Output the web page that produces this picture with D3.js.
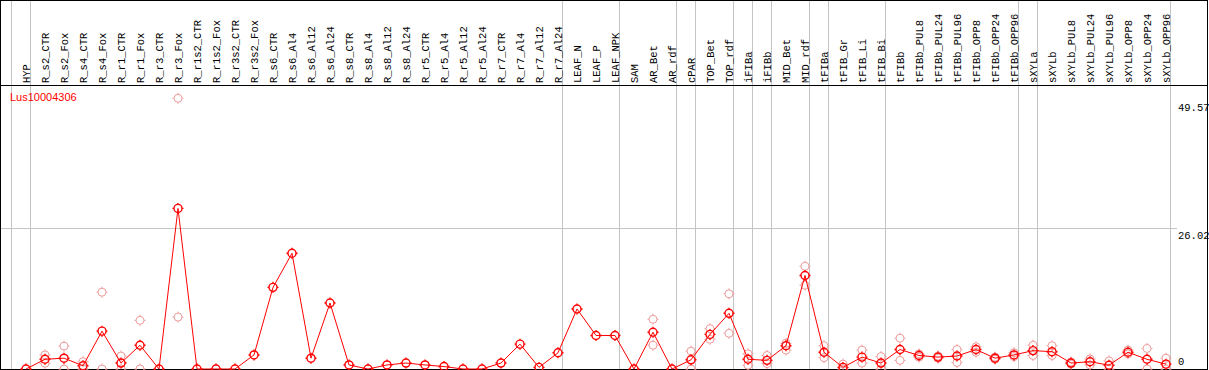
<!DOCTYPE html>
<html>
<head>
<meta charset="utf-8">
<script src="https://cdn.jsdelivr.net/npm/d3@7"></script>
<style>
  body { margin: 0; background: #fff; }
  svg { display: block; }
</style>
</head>
<body>
<svg id="chart" width="1209" height="370"></svg>
<script>
// sample names, left to right
const samples = [
  'HYP',
  'R_s2_CTR', 'R_s2_Fox', 'R_s4_CTR', 'R_s4_Fox', 'R_r1_CTR', 'R_r1_Fox', 'R_r3_CTR', 'R_r3_Fox',
  'R_r1s2_CTR', 'R_r1s2_Fox', 'R_r3s2_CTR', 'R_r3s2_Fox',
  'R_s6_CTR', 'R_s6_Al4', 'R_s6_Al12', 'R_s6_Al24', 'R_s8_CTR', 'R_s8_Al4', 'R_s8_Al12', 'R_s8_Al24',
  'R_r5_CTR', 'R_r5_Al4', 'R_r5_Al12', 'R_r5_Al24', 'R_r7_CTR', 'R_r7_Al4', 'R_r7_Al12', 'R_r7_Al24',
  'LEAF_N', 'LEAF_P', 'LEAF_NPK', 'SAM', 'AR_Bet', 'AR_rdf', 'cPAR', 'TOP_Bet', 'TOP_rdf',
  'iFIBa', 'iFIBb', 'MID_Bet', 'MID_rdf', 'tFIBa', 'tFIB_Gr', 'tFIB_Li', 'tFIB_Bi',
  'tFIBb', 'tFIBb_PUL8', 'tFIBb_PUL24', 'tFIBb_PUL96', 'tFIBb_OPP8', 'tFIBb_OPP24', 'tFIBb_OPP96',
  'sXYLa', 'sXYLb', 'sXYLb_PUL8', 'sXYLb_PUL24', 'sXYLb_PUL96', 'sXYLb_OPP8', 'sXYLb_OPP24', 'sXYLb_OPP96'
];

// mean expression per sample (dark markers + line)
const meanValues = [
  0,
  1.8, 2.0, 0.6, 7.0, 1.1, 4.4, 0, 29.7,
  0, 0, 0, 2.6,
  15.1, 21.4, 2.0, 12.2, 0.75, 0, 0.75, 1.1,
  0.75, 0.45, 0, 0, 1.1, 4.6, 0.3, 3.0,
  11.1, 6.2, 6.2, 0, 6.8, 0, 1.7, 6.4, 10.3,
  1.8, 1.6, 4.3, 17.3, 3.1, 0.3, 2.2, 1.1,
  3.6, 2.5, 2.2, 2.4, 3.6, 2.0, 2.6,
  3.4, 3.2, 1.1, 1.35, 0.7, 3.1, 1.8, 0.9
];

// replicate values (light markers), null where none is visible
const repHigh = [
  null,
  2.6, 4.25, 1.35, 14.2, 2.4, 9.0, null, 50.06,
  null, null, null, null,
  null, null, null, null, null, null, null, null,
  null, null, null, null, null, null, null, null,
  null, null, null, null, 9.2, null, 3.3, 7.45, 13.9,
  2.8, 2.5, 4.75, 19.0, 4.3, 0.9, 3.5, 2.3,
  5.7, 2.8, 2.4, 3.6, 4.1, 2.2, 3.0,
  4.4, 4.3, 1.3, 1.85, 1.5, 3.5, 3.8, 2.0
];
const repLow = [
  null,
  1.05, 0, 0, 0, 0, 0, null, 9.6,
  null, null, null, null,
  null, null, null, null, null, null, null, null,
  null, null, null, null, null, null, null, null,
  null, null, null, null, 4.4, null, 0, 5.5, 6.6,
  0.7, 1.0, 3.5, 15.5, 2.1, 0, 1.1, 0,
  1.6, 2.2, 2.0, 1.2, 3.1, 1.8, 2.3,
  2.5, 2.5, 0.9, 0.75, 0, 2.8, 0, 0
];

// last sample of each tissue group (separator lines)
const groupEnds = ['HYP', 'R_r7_Al24', 'LEAF_NPK', 'AR_rdf', 'cPAR', 'TOP_rdf', 'iFIBa', 'iFIBb',
  'MID_rdf', 'tFIBa', 'tFIB_Bi', 'tFIBb_OPP96', 'sXYLa', 'sXYLb_OPP96'];

const yTicks = [0, 26.02, 49.57];
const geneId = 'Lus10004306';

const width = 1209;
const plotTop = 85, plotBottom = 369, labelBase = 83;
const mono = '"Liberation Mono", "DejaVu Sans Mono", monospace';

const svg = d3.select('#chart');

const x = d3.scalePoint().domain(samples).range([26, 1166]);
const y = d3.scaleLinear().domain([0, 26.02]).range([plotBottom, 228.3]);

const crisp = v => Math.floor(v) + 0.5;

// horizontal grid at the middle tick
svg.append('line')
    .attr('x1', 1).attr('x2', 1177)
    .attr('y1', crisp(y(26.02))).attr('y2', crisp(y(26.02)))
    .attr('stroke', '#c4c4c4');

// group separators, full height
const sepX = [x(samples[0]) - x.step()].concat(groupEnds.map(d => x(d)));
svg.selectAll('.sep')
    .data(sepX)
  .enter().append('line')
    .attr('class', 'sep')
    .attr('x1', d => crisp(d + 4.5)).attr('x2', d => crisp(d + 4.5))
    .attr('y1', 0).attr('y2', plotBottom)
    .attr('stroke', '#c4c4c4');

// frame + header divider
svg.append('rect')
    .attr('x', 0.5).attr('y', 0.5)
    .attr('width', width - 2).attr('height', plotBottom)
    .attr('fill', 'none').attr('stroke', '#000');
svg.append('line')
    .attr('x1', 0).attr('x2', width - 1)
    .attr('y1', plotTop + 0.5).attr('y2', plotTop + 0.5)
    .attr('stroke', '#000');

// sample labels
svg.selectAll('.slabel')
    .data(samples)
  .enter().append('text')
    .attr('class', 'slabel')
    .attr('transform', d => `translate(${x(d) + 3.5},${labelBase}) rotate(-90)`)
    .style('font-family', mono)
    .style('font-size', '10.5px')
    .attr('fill', '#000')
    .text(d => d);

// right value axis
const axis = svg.append('g')
    .attr('transform', 'translate(1178,0)')
    .call(d3.axisRight(y).tickValues(yTicks).tickSize(0).tickPadding(0).tickFormat(d => d));
axis.select('.domain').remove();
axis.selectAll('text')
    .style('font-family', mono)
    .style('font-size', '10.5px')
    .attr('fill', '#000')
    .attr('dy', d => d === 0 ? '-0.4em' : '0.95em');

// gene name
svg.append('text')
    .attr('x', 10).attr('y', 101)
    .style('font-family', '"Liberation Sans", Arial, sans-serif')
    .style('font-size', '11px')
    .attr('fill', '#ff0000')
    .text(geneId);

// marker: ring with four small stubs
function marker(r, s) {
  return `M${-r},0a${r},${r} 0 1,0 ${2 * r},0a${r},${r} 0 1,0 ${-2 * r},0` +
    `M0,${-r}v${-s}M0,${r}v${s}M${-r},0h${-s}M${r},0h${s}`;
}

const reps = [];
samples.forEach((s, i) => {
  if (repHigh[i] !== null) reps.push({s, v: repHigh[i]});
  if (repLow[i] !== null) reps.push({s, v: repLow[i]});
});

svg.selectAll('.rep')
    .data(reps)
  .enter().append('path')
    .attr('class', 'rep')
    .attr('transform', d => `translate(${x(d.s)},${y(d.v)})`)
    .attr('d', marker(4, 1.5))
    .attr('fill', 'none')
    .attr('stroke', '#ef9c9c')
    .attr('stroke-width', 1);

const line = d3.line()
    .x(d => x(d.s))
    .y(d => y(d.v));
const means = samples.map((s, i) => ({s, v: meanValues[i]}));

svg.append('path')
    .datum(means)
    .attr('d', line)
    .attr('fill', 'none')
    .attr('stroke', '#ff0000')
    .attr('stroke-width', 1);

svg.selectAll('.mean')
    .data(means)
  .enter().append('path')
    .attr('class', 'mean')
    .attr('transform', d => `translate(${x(d.s)},${y(d.v)})`)
    .attr('d', marker(4, 1.5))
    .attr('fill', 'none')
    .attr('stroke', '#ff0000')
    .attr('stroke-width', 1.4);
</script>
</body>
</html>
